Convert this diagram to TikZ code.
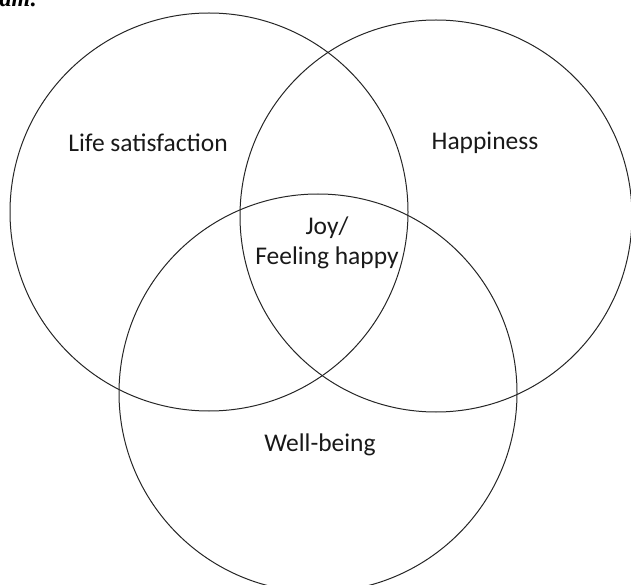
\documentclass[tikz,border=0pt]{standalone}
\usepackage{fontspec}
\setmainfont{Carlito}
\newfontfamily\capfont{Liberation Serif}
\tikzset{
  ring/.style={draw=black!85, line width=1pt},
  lbl/.style={font=\fontsize{25.5}{30}\selectfont, text=black!90, align=center, inner sep=0pt},
}
\begin{document}
\begin{tikzpicture}[x=1pt,y=-1pt]
\useasboundingbox (0,0) rectangle (631,585);
\node[anchor=south west, inner sep=0pt, font=\capfont\bfseries\itshape\fontsize{24}{28}\selectfont] (cap) at (-58,12) {Diagram:};
\draw[ring] (209,212) circle (199) coordinate (c1);
\draw[ring] (436,216) circle (196) coordinate (c2);
\draw[ring] (318,393) circle (199) coordinate (c3);
\node[lbl] (life) at (148,143) {Life satisfaction};
\node[lbl] (hap) at (485,143) {Happiness};
\node[lbl] (joy) at (327,243) {Joy/\\Feeling happy};
\node[lbl] (well) at (320,445) {Well-being};
\end{tikzpicture}
\end{document}
